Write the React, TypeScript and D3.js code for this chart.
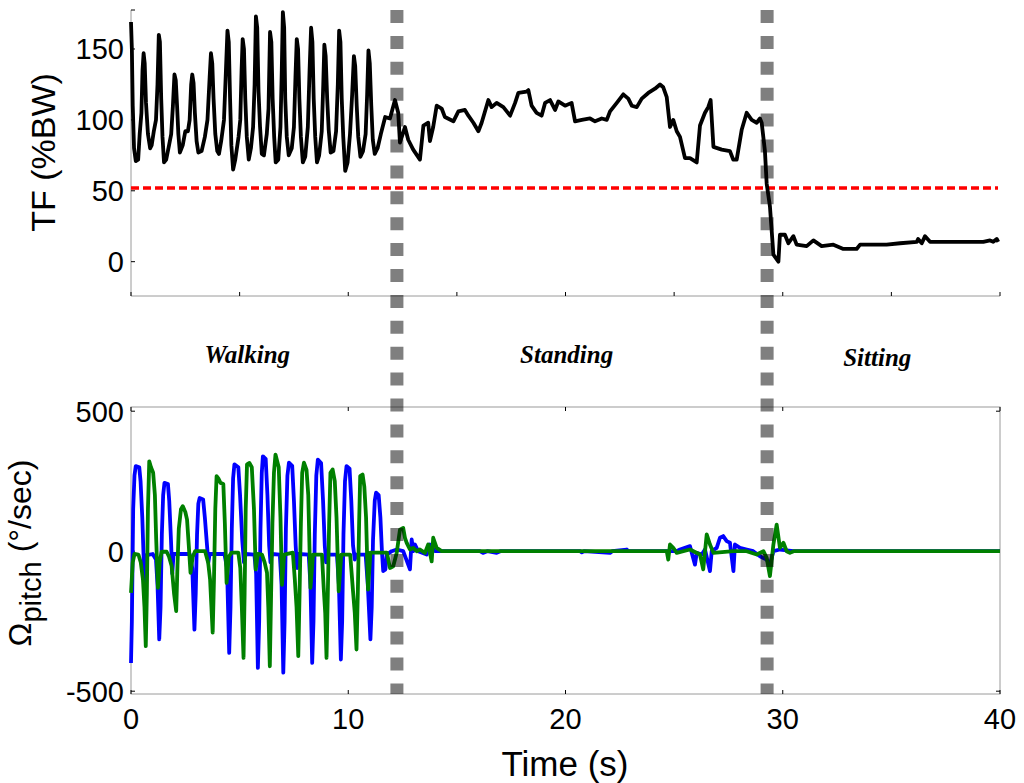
import React from 'react';
import * as d3 from 'd3';

// ---------- data ----------
const timeTicks = [0, 10, 20, 30, 40];
const timeMinorTicks = [0, 5, 10, 15, 20, 25, 30, 35, 40];
const tfTicks = [0, 50, 100, 150];
const gyroTicks = [-500, 0, 500];
const tfThreshold = 52;
const phaseBoundaries = [12.24, 29.28];
const phaseLabels = ['Walking', 'Standing', 'Sitting'];
const phaseLabelTimes = [5.35, 20.05, 34.35];

// total force (%BW) vs time (s)
const tfSeries: [number, number][] = [
  [0.00,169],[0.04,150],[0.08,110],[0.14,80],[0.22,71],[0.33,72],[0.40,90],[0.48,105],[0.53,135],[0.58,147],[0.63,140],[0.69,112],[0.78,90],[0.88,80],[0.95,82],[1.05,92],[1.15,100],[1.22,125],[1.28,160],[1.33,155],[1.39,115],[1.45,88],[1.52,70],[1.62,72],[1.75,82],[1.85,90],[1.93,110],[2.00,132],[2.06,128],[2.12,110],[2.18,90],[2.25,77],[2.38,82],[2.50,92],[2.62,92],[2.70,100],[2.77,125],[2.82,132],[2.88,126],[2.94,105],[3.02,85],[3.10,77],[3.25,78],[3.40,88],[3.52,100],[3.62,130],[3.68,147],[3.74,140],[3.80,115],[3.88,90],[3.97,78],[4.05,76],[4.15,85],[4.28,100],[4.37,135],[4.44,163],[4.50,155],[4.56,115],[4.62,82],[4.70,65],[4.80,72],[4.95,88],[5.03,100],[5.09,135],[5.14,157],[5.20,150],[5.26,115],[5.33,88],[5.42,72],[5.52,80],[5.62,95],[5.69,125],[5.75,173],[5.81,165],[5.87,120],[5.94,95],[6.02,76],[6.12,75],[6.25,90],[6.33,108],[6.40,162],[6.46,155],[6.52,115],[6.59,88],[6.66,70],[6.78,72],[6.88,95],[6.94,135],[6.99,176],[7.05,165],[7.10,115],[7.17,88],[7.26,75],[7.40,80],[7.50,95],[7.57,130],[7.63,157],[7.69,150],[7.75,115],[7.82,88],[7.91,70],[8.02,74],[8.14,95],[8.22,135],[8.29,165],[8.35,155],[8.41,115],[8.48,88],[8.56,70],[8.66,75],[8.78,92],[8.85,125],[8.90,153],[8.96,145],[9.03,115],[9.10,93],[9.19,77],[9.32,78],[9.44,92],[9.52,125],[9.58,163],[9.64,155],[9.70,115],[9.77,88],[9.86,64],[9.97,70],[10.08,90],[10.18,118],[10.26,145],[10.32,138],[10.39,110],[10.46,88],[10.56,74],[10.68,78],[10.80,90],[10.87,118],[10.93,149],[10.99,140],[11.06,110],[11.13,86],[11.22,76],[11.35,80],[11.50,90],[11.70,102],[11.92,101],[12.15,114],[12.30,105],[12.38,84],[12.61,95],[12.76,86],[12.99,79],[13.30,72],[13.46,96],[13.68,98],[13.76,85],[13.91,95],[14.07,110],[14.30,108],[14.45,102],[14.84,99],[15.07,106],[15.37,107],[15.53,103],[15.76,98],[15.99,92],[16.14,98],[16.45,114],[16.60,109],[16.83,112],[17.14,109],[17.45,103],[17.68,112],[17.83,119],[18.21,120],[18.29,121],[18.44,110],[18.67,105],[18.90,103],[19.06,112],[19.29,114],[19.52,107],[19.67,113],[19.98,110],[20.28,112],[20.44,99],[20.75,100],[21.13,101],[21.36,99],[21.67,101],[21.90,100],[22.05,106],[22.36,112],[22.66,118],[22.89,115],[23.05,110],[23.28,109],[23.51,115],[23.81,119],[24.12,122],[24.35,125],[24.50,123],[24.66,116],[24.81,95],[24.96,100],[25.12,92],[25.27,88],[25.50,73],[25.73,73],[26.04,70],[26.19,96],[26.42,105],[26.57,109],[26.68,114],[26.81,81],[27.19,79],[27.57,78],[27.72,72],[27.88,72],[28.11,93],[28.34,105],[28.57,100],[28.80,98],[28.95,101],[29.03,98],[29.18,78],[29.26,55],[29.41,39],[29.49,22],[29.57,5],[29.80,0],[29.87,19],[30.10,19],[30.26,13],[30.49,18],[30.64,12],[31.10,11],[31.41,15],[31.79,11],[32.33,12],[32.79,9],[33.40,9],[33.56,12],[34.78,12],[35.40,13],[36.17,14],[36.23,16],[36.40,13],[36.55,18],[36.78,14],[39.23,14],[39.54,15],[39.69,14],[39.85,16],[39.92,14]
];

// pitch angular velocity (deg/s), sensor 1 (blue)
const gyroBlue: [number, number][] = [
  [0.00,-399],[0.04,-250],[0.10,150],[0.16,270],[0.22,304],[0.38,300],[0.44,250],[0.52,120],[0.58,-20],[0.63,-120],[0.68,-15],[1.00,-10],[1.15,-30],[1.22,-120],[1.30,-315],[1.36,-200],[1.42,60],[1.48,200],[1.54,244],[1.70,240],[1.76,180],[1.84,40],[1.90,-80],[1.96,-10],[2.70,-10],[2.82,-60],[2.92,-280],[2.98,-150],[3.04,60],[3.10,170],[3.16,190],[3.32,185],[3.40,120],[3.50,20],[3.56,-40],[3.62,-10],[4.30,-10],[4.42,-60],[4.52,-363],[4.58,-200],[4.64,80],[4.70,260],[4.76,310],[4.94,300],[5.02,200],[5.12,40],[5.20,-40],[5.28,-10],[5.68,-12],[5.76,-80],[5.84,-417],[5.90,-250],[5.96,80],[6.02,280],[6.07,339],[6.20,330],[6.28,200],[6.36,20],[6.42,-40],[6.48,-10],[6.85,-12],[6.93,-120],[7.01,-434],[7.07,-250],[7.13,80],[7.20,270],[7.27,316],[7.42,305],[7.50,180],[7.58,20],[7.64,-60],[7.70,-10],[8.18,-12],[8.26,-120],[8.34,-399],[8.40,-250],[8.46,60],[8.53,270],[8.60,327],[8.75,315],[8.84,180],[8.92,20],[8.98,-40],[9.05,-12],[9.48,-12],[9.57,-120],[9.66,-387],[9.72,-250],[9.78,60],[9.85,250],[9.92,304],[10.06,295],[10.14,180],[10.22,20],[10.30,-30],[10.36,-12],[10.80,-12],[10.90,-120],[11.02,-315],[11.08,-200],[11.14,40],[11.22,180],[11.28,209],[11.40,200],[11.48,120],[11.55,0],[11.61,-71],[11.71,-65],[11.77,-12],[12.00,0],[12.23,6],[12.53,0],[12.84,-65],[12.92,42],[12.99,0],[13.07,24],[13.22,0],[13.61,-12],[13.76,24],[13.99,0],[16.06,0],[16.20,-6],[16.40,0],[16.83,-6],[17.00,0],[20.67,0],[20.75,-4],[20.85,0],[22.05,-6],[22.15,0],[22.82,6],[22.90,0],[25.12,0],[25.27,6],[25.73,18],[25.96,-48],[26.04,-6],[26.27,-12],[26.42,6],[26.65,-71],[26.73,0],[26.96,12],[27.11,48],[27.26,54],[27.42,36],[27.57,30],[27.73,-71],[27.80,24],[28.03,12],[28.34,6],[28.64,0],[28.95,-18],[29.26,-30],[29.41,-48],[29.57,0],[29.87,6],[30.49,0],[40.00,0]
];

// pitch angular velocity (deg/s), sensor 2 (green)
const gyroGreen: [number, number][] = [
  [0.00,-149],[0.08,-40],[0.16,-10],[0.34,-12],[0.45,-40],[0.55,-101],[0.62,-200],[0.68,-339],[0.73,-150],[0.78,150],[0.84,321],[0.92,300],[1.02,280],[1.10,200],[1.16,42],[1.24,-131],[1.32,-40],[1.41,-2],[1.64,-2],[1.75,-20],[1.87,-53],[1.98,-150],[2.08,-214],[2.14,-50],[2.20,80],[2.30,150],[2.38,161],[2.50,140],[2.58,113],[2.66,20],[2.74,-77],[2.84,-20],[2.95,0],[3.41,0],[3.55,-40],[3.64,-101],[3.76,-291],[3.82,-100],[3.88,150],[3.94,268],[4.02,260],[4.12,244],[4.25,240],[4.32,100],[4.40,-113],[4.50,-20],[4.63,-5],[4.94,-5],[5.03,-60],[5.10,-196],[5.18,-381],[5.23,-150],[5.28,150],[5.34,310],[5.45,315],[5.56,300],[5.66,150],[5.74,-65],[5.84,-10],[6.03,-12],[6.15,-40],[6.26,-77],[6.32,-200],[6.39,-411],[6.45,-150],[6.51,100],[6.58,280],[6.65,345],[6.80,300],[6.88,120],[6.95,-120],[7.05,-12],[7.45,-5],[7.54,-101],[7.62,-200],[7.70,-375],[7.76,-150],[7.82,100],[7.88,280],[7.96,316],[8.08,290],[8.16,200],[8.26,-131],[8.38,-12],[8.79,-12],[8.87,-131],[8.94,-220],[9.00,-381],[9.06,-150],[9.12,100],[9.18,280],[9.28,292],[9.38,250],[9.46,120],[9.56,-143],[9.68,-12],[10.09,-12],[10.22,-143],[10.30,-220],[10.38,-351],[10.44,-150],[10.50,100],[10.55,268],[10.66,274],[10.74,230],[10.82,120],[10.91,-137],[11.02,-5],[11.78,-5],[11.92,-60],[12.07,-54],[12.23,-6],[12.38,77],[12.53,83],[12.61,48],[12.69,30],[12.84,6],[12.99,12],[13.15,0],[13.30,6],[13.53,-6],[13.68,24],[13.84,-36],[13.91,48],[14.07,12],[14.30,0],[24.66,0],[24.73,-30],[24.81,24],[24.96,12],[25.12,-6],[25.73,6],[26.19,-12],[26.34,-65],[26.50,60],[26.65,24],[26.81,-6],[27.73,0],[28.34,0],[28.80,-12],[29.11,0],[29.26,-24],[29.41,-89],[29.57,24],[29.72,95],[29.87,12],[30.03,30],[30.18,0],[30.33,-6],[30.50,0],[40.00,0]
];

// ---------- layout ----------
const W = 1024;
const H = 783;
const X0 = 131;
const X1 = 1000;
const TOP_Y0 = 10;
const TOP_Y1 = 296;
const BOT_Y0 = 407;
const BOT_Y1 = 694;
const SANS = '"Liberation Sans", Arial, sans-serif';
const SERIF = '"Liberation Serif", "Times New Roman", serif';
const AXIS_COLOR = '#9a9a9a';

export default function App() {
  const x = d3.scaleLinear().domain([0, 40]).range([X0, X1]);
  const yTF = d3.scaleLinear().domain([-24.2, 177.5]).range([TOP_Y1, TOP_Y0]);
  const yG = d3.scaleLinear().domain([-510, 515]).range([BOT_Y1, BOT_Y0]);

  const tfLine = d3.line<[number, number]>().x(d => x(d[0])).y(d => yTF(d[1]));
  const gLine = d3.line<[number, number]>().x(d => x(d[0])).y(d => yG(d[1]));

  const labelBaselines = [363, 363, 366];

  return (
    <svg width={W} height={H} style={{ position: 'absolute', left: 0, top: 0, background: '#fff' }}>
      <rect x={0} y={0} width={W} height={H} fill="#fff" />

      {/* ---- top panel axes ---- */}
      <line x1={X0} y1={TOP_Y0} x2={X0} y2={TOP_Y1} stroke={AXIS_COLOR} strokeWidth={1} />
      <line x1={X0} y1={TOP_Y1} x2={X1} y2={TOP_Y1} stroke={AXIS_COLOR} strokeWidth={1} />
      {tfTicks.map(v => (
        <g key={'tft' + v}>
          <line x1={X0} x2={X0 + 4} y1={yTF(v)} y2={yTF(v)} stroke="#000" strokeWidth={1} />
          <text x={124} y={yTF(v)} dy="0.36em" textAnchor="end" fontFamily={SANS} fontSize={29} fill="#000">{v}</text>
        </g>
      ))}
      <line x1={X0} x2={X0 + 4} y1={TOP_Y0} y2={TOP_Y0} stroke="#000" strokeWidth={1} />
      {timeMinorTicks.map(t => (
        <line key={'tm' + t} x1={x(t)} x2={x(t)} y1={TOP_Y1} y2={TOP_Y1 - 4} stroke="#000" strokeWidth={1} />
      ))}

      {/* TF threshold */}
      <line x1={X0} x2={998} y1={yTF(tfThreshold)} y2={yTF(tfThreshold)} stroke="#ff0000" strokeWidth={3.5} strokeDasharray="8 4" />

      {/* TF trace */}
      <path d={tfLine(tfSeries) || ''} fill="none" stroke="#000" strokeWidth={3.8} strokeLinejoin="round" />

      {/* ---- bottom panel axes ---- */}
      <rect x={X0} y={BOT_Y0} width={X1 - X0} height={BOT_Y1 - BOT_Y0} fill="none" stroke={AXIS_COLOR} strokeWidth={1} />
      {gyroTicks.map(v => (
        <g key={'gt' + v}>
          <line x1={X0} x2={X0 + 4} y1={yG(v)} y2={yG(v)} stroke="#000" strokeWidth={1} />
          <line x1={X1} x2={X1 - 4} y1={yG(v)} y2={yG(v)} stroke="#000" strokeWidth={1} />
          <text x={124} y={yG(v)} dy="0.36em" textAnchor="end" fontFamily={SANS} fontSize={29} fill="#000">{v}</text>
        </g>
      ))}
      {timeTicks.map(t => (
        <g key={'tt' + t}>
          <line x1={x(t)} x2={x(t)} y1={BOT_Y0} y2={BOT_Y0 + 4} stroke="#000" strokeWidth={1} />
          <line x1={x(t)} x2={x(t)} y1={BOT_Y1} y2={BOT_Y1 - 4} stroke="#000" strokeWidth={1} />
          <text x={x(t)} y={729} textAnchor="middle" fontFamily={SANS} fontSize={29} fill="#000">{t}</text>
        </g>
      ))}

      {/* gyro traces */}
      <path d={gLine(gyroBlue) || ''} fill="none" stroke="#0000ff" strokeWidth={3.8} strokeLinejoin="round" />
      <path d={gLine(gyroGreen) || ''} fill="none" stroke="#008000" strokeWidth={3.8} strokeLinejoin="round" />

      {/* phase boundaries */}
      {phaseBoundaries.map(t => (
        <line key={'pb' + t} x1={x(t)} x2={x(t)} y1={10} y2={BOT_Y1} stroke="#000" strokeOpacity={0.5} strokeWidth={13} strokeDasharray="13 12.9" />
      ))}

      {/* phase labels */}
      {phaseLabels.map((s, i) => (
        <text key={s} x={x(phaseLabelTimes[i])} y={labelBaselines[i]} textAnchor="middle" fontFamily={SERIF} fontStyle="italic" fontWeight="bold" fontSize={25} fill="#000">{s}</text>
      ))}

      {/* axis titles */}
      <text transform="translate(55,152.5) rotate(-90)" textAnchor="middle" fontFamily={SANS} fontSize={34} fill="#000">TF (%BW)</text>
      <text transform="translate(31,553) rotate(-90)" textAnchor="middle" fontFamily={SANS} fontSize={32} fill="#000">
        <tspan>Ω</tspan>
        <tspan fontSize={29} dy={10}>pitch</tspan>
        <tspan dy={-10}> (°/sec)</tspan>
      </text>
      <text x={565} y={776} textAnchor="middle" fontFamily={SANS} fontSize={35} fill="#000">Time (s)</text>
    </svg>
  );
}
